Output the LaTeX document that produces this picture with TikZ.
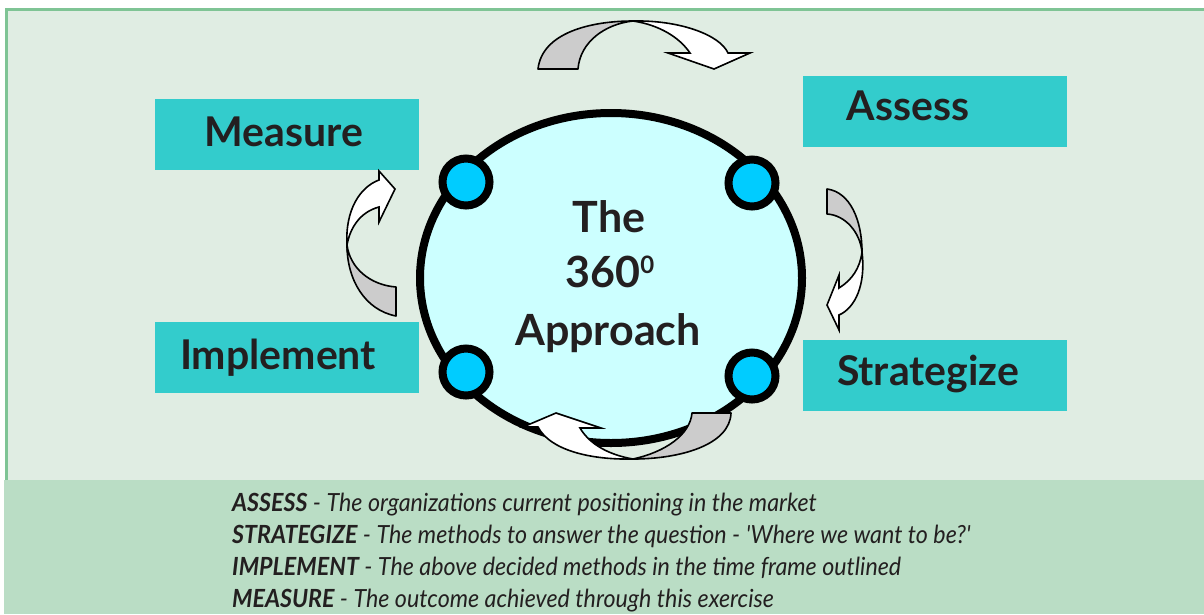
\documentclass[tikz,border=0pt]{standalone}
\usepackage{fontspec}
\usetikzlibrary{shapes.geometric}
\setmainfont{Lato}
\newfontfamily\descfont[FakeStretch=0.93]{Lato}
\definecolor{bgtop}{HTML}{E0EDE3}
\definecolor{frameg}{HTML}{7FC495}
\definecolor{band}{HTML}{BADDC5}
\definecolor{teal}{HTML}{33CCCC}
\definecolor{ringfill}{HTML}{CCFFFF}
\definecolor{dotfill}{HTML}{00CCFF}
\definecolor{arrgray}{HTML}{CCCCCC}
\definecolor{ink}{HTML}{231F20}
\begin{document}
\begin{tikzpicture}[x=1pt,y=-1pt,
  labelbox/.style={fill=teal,draw=none,minimum width=264pt,minimum height=71pt,inner sep=0pt},
  labeltext/.style={anchor=base,text=ink,font=\fontsize{41}{44}\selectfont\bfseries,inner sep=0pt},
  centertext/.style={anchor=base,text=ink,font=\fontsize{43}{46}\selectfont\bfseries,inner sep=0pt},
  dot/.style={circle,fill=dotfill,draw=black,line width=8pt,minimum size=47pt,inner sep=0pt},
  desc/.style={anchor=base west,text=ink,font=\descfont\fontsize{25}{28}\selectfont\itshape,inner sep=0pt},
  arrback/.style={fill=arrgray,draw=black,line width=1.6pt,line join=round},
  arrfront/.style={fill=white,draw=black,line width=1.6pt,line join=miter}]
\useasboundingbox (0,0) rectangle (1204,614);
% backgrounds
\fill[white] (0,0) rectangle (1204,614);
\draw[fill=bgtop,draw=frameg,line width=3pt] (6,9.5) rectangle (1215,490);
\fill[band] (4,480) rectangle (1204,614);
% label boxes
\node[labelbox] (measurebox) at (287,134.5) {};
\node[labelbox] (assessbox) at (935,111.5) {};
\node[labelbox] (implementbox) at (287,357.5) {};
\node[labelbox] (strategizebox) at (935,375.5) {};
\node[labeltext] (measure) at (284,146) {Measure};
\node[labeltext] (assess) at (908,120) {Assess};
\node[labeltext] (implement) at (278,369) {Implement};
\node[labeltext] (strategize) at (928,385) {Strategize};
% central ring
\node[ellipse,draw=black,fill=ringfill,line width=8pt,minimum width=382pt,minimum height=330pt,inner sep=0pt] (ring) at (611,278) {};
\node[dot] (dotmeasure) at (466,182) {};
\node[dot] (dotassess) at (752,183) {};
\node[dot] (dotimplement) at (466,372) {};
\node[dot] (dotstrategize) at (752,376) {};
\node[centertext] (the) at (609,232) {The};
\node[centertext] (threesixty) at (610,287) {360\raisebox{0.6ex}{\fontsize{24}{24}\selectfont 0}};
\node[centertext] (approach) at (608,345) {Approach};
% top curved arrow
\draw[arrback] (538,69) .. controls (542,33) and (590,21) .. (633,21)
  .. controls (605,24) and (580,42) .. (578,69) -- cycle;
\draw[arrfront] (633,21) .. controls (680,20) and (720,35) .. (728,53) -- (750,53) -- (714,69)
  -- (668,53) -- (690,53) .. controls (680,38) and (660,25) .. (633,21) -- cycle;
% right curved arrow
\draw[arrback] (827,189) .. controls (850,192) and (862,220) .. (862,252)
  .. controls (860,232) and (845,215) .. (827,214) -- cycle;
\draw[arrfront] (862,252) .. controls (866,285) and (855,308) .. (839,315) -- (839,330) -- (827,305)
  -- (839,275) -- (839,288) .. controls (852,280) and (860,268) .. (862,252) -- cycle;
% bottom curved arrow
\draw[arrback] (731,413) .. controls (730,445) and (680,459) .. (633,459)
  .. controls (665,452) and (690,435) .. (692,413) -- cycle;
\draw[arrfront] (633,459) .. controls (590,460) and (550,450) .. (538,427) -- (523,427) -- (556,413)
  -- (601,428) -- (580,428) .. controls (590,445) and (610,455) .. (633,459) -- cycle;
% left curved arrow
\draw[arrback] (396,316) .. controls (365,310) and (347,280) .. (347,245)
  .. controls (350,268) and (370,285) .. (396,287) -- cycle;
\draw[arrfront] (347,245) .. controls (345,210) and (360,187) .. (379,180) -- (379,171) -- (395,189)
  -- (379,222) -- (379,207) .. controls (360,212) and (350,228) .. (347,245) -- cycle;
% descriptions
\node[desc] (dassess) at (232,511) {\textbf{ASSESS} - The organizations current positioning in the market};
\node[desc] (dstrategize) at (232,543) {\textbf{STRATEGIZE} - The methods to answer the question - \textquotesingle Where we want to be?\textquotesingle};
\node[desc] (dimplement) at (232,575) {\textbf{IMPLEMENT} - The above decided methods in the time frame outlined};
\node[desc] (dmeasure) at (232,607) {\textbf{MEASURE} - The outcome achieved through this exercise};
\end{tikzpicture}
\end{document}
